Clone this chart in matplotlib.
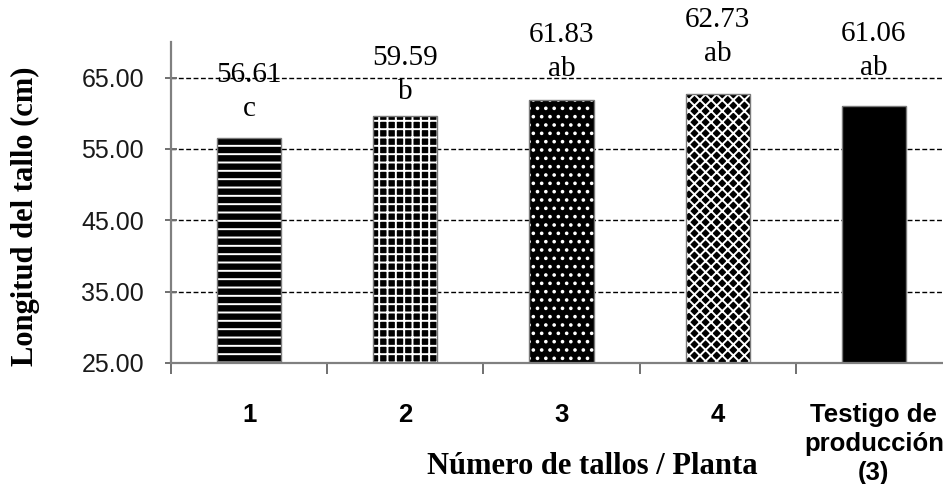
import numpy as np
import matplotlib
matplotlib.use("Agg")
import matplotlib.pyplot as plt

# data
categories = ["1", "2", "3", "4", "Testigo de\nproducción\n(3)"]
longitud = [56.61, 59.59, 61.83, 62.73, 61.06]
letras = ["c", "b", "ab", "ab", "ab"]
yticks = [25, 35, 45, 55, 65]

# styling
hatches = ["--", "++", "..", "xxx", ""]
label_pad = [11.5, 8, 13.5, 19.5, 18]   # points above bar top

plt.rcParams["hatch.linewidth"] = 1.4
serif = ["Liberation Serif", "DejaVu Serif"]
sans = ["Liberation Sans", "DejaVu Sans"]

fig = plt.figure(figsize=(9.43, 4.84), dpi=100)
ax = fig.add_axes([171/943, 121/484, 781/943, 321/484])

x = np.arange(len(categories))
ax.set_xlim(-0.5, len(categories) - 0.5)
ax.set_ylim(25, 70)

# dashed grid
for y in yticks[1:]:
    ax.axhline(y, color="black", lw=1.0, ls=(0, (3.5, 1.8)), zorder=1)

ax.bar(x, np.array(longitud) - 25, bottom=25, width=0.41,
       color="black", edgecolor="white", hatch=hatches, lw=0, zorder=2)
ax.bar(x, np.array(longitud) - 25, bottom=25, width=0.41,
       fill=False, edgecolor="#7a7a7a", lw=1.0, zorder=3)

for xi, v, l, p in zip(x, longitud, letras, label_pad):
    ax.annotate(f"{v:.2f}\n{l}", (xi, v), xytext=(0, p), textcoords="offset points",
                ha="center", va="bottom", fontsize=21, family=serif,
                linespacing=1.4, zorder=4)

# axes style
for s in ["top", "right"]:
    ax.spines[s].set_visible(False)
for s in ["left", "bottom"]:
    ax.spines[s].set_color("#808080")
    ax.spines[s].set_linewidth(1.6)

ax.set_yticks(yticks)
ax.set_yticklabels([f"{t:.2f}" for t in yticks], family=sans, fontsize=18,
                   color="#1a1a1a")
ax.tick_params(axis="y", direction="inout", length=9, width=1.4,
               color="#707070", pad=15)

ax.set_xticks(x)
ax.set_xticklabels(categories, family=sans, fontsize=18.5, fontweight="bold",
                   linespacing=1.25)
ax.tick_params(axis="x", which="major", length=0, pad=29)
ax.set_xticks(np.arange(len(categories) + 1) - 0.5, minor=True)
ax.tick_params(axis="x", which="minor", direction="out", length=8, width=1.4,
               color="#707070")

fig.text(25/943, 1 - 216/484, "Longitud del tallo (cm)", rotation=90,
         ha="center", va="center", fontsize=22, fontweight="bold", family=serif)
fig.text(592/943, 1 - 467/484, "Número de tallos / Planta", ha="center",
         va="center", fontsize=22, fontweight="bold", family=serif)

fig.savefig("out.png", dpi=100)
